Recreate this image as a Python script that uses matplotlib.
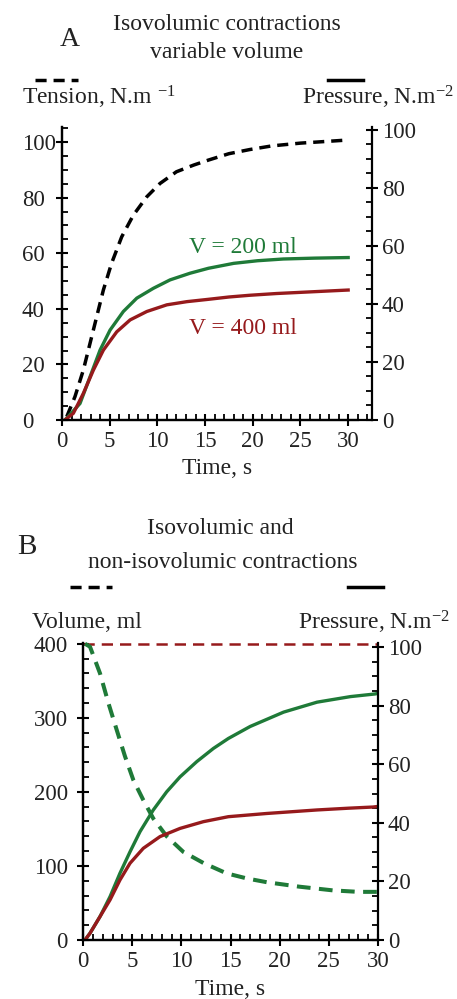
import matplotlib
matplotlib.use("Agg")
import matplotlib.pyplot as plt
from matplotlib.lines import Line2D
from matplotlib.ticker import MultipleLocator

plt.rcParams['font.family'] = ['Liberation Serif', 'DejaVu Serif']
plt.rcParams['mathtext.fontset'] = 'custom'
plt.rcParams['mathtext.rm'] = 'Liberation Serif'
plt.rcParams['mathtext.it'] = 'Liberation Serif:italic'

GREEN = '#1f7a38'
RED = '#961a1c'
TXT = '#222222'

# ---------- Panel A data ----------
a_tension_t = [0.5, 1.36, 2.24, 2.94, 3.64, 4.34, 5.2, 6.26, 7.48, 8.89, 10.28, 12.0,
               13.8, 15.35, 17.5, 19.7, 22.0, 25.0, 29.9]
a_tension_v = [1.2, 8.4, 18, 27.6, 37.2, 46.8, 56.4, 65.9, 73.7, 80.3, 85.1, 89.3,
               91.7, 93.5, 95.8, 97.3, 98.6, 99.6, 100.7]
a_p200_t = [0.3, 0.49, 1.89, 2.94, 3.99, 5.04, 6.43, 7.84, 9.58, 11.33, 13.43, 15.35,
            18.0, 20.5, 23.2, 26.5, 30.0]
a_p200_v = [0, 0.6, 5.7, 14.9, 24.1, 31, 37.4, 42, 45.4, 48.3, 50.6, 52.3,
            54, 54.9, 55.5, 55.8, 56]
a_p400_t = [0.3, 1.19, 2.24, 3.29, 4.34, 5.74, 7.14, 8.89, 10.99, 13.1, 15.35, 17.5,
            19.7, 22.5, 25.0, 27.5, 30.0]
a_p400_v = [0, 2.3, 9.2, 17.2, 24.1, 30.4, 34.5, 37.4, 39.7, 40.8, 41.6, 42.4,
            43.0, 43.6, 44.0, 44.4, 44.8]
a_labels = ["V = 200 ml", "V = 400 ml"]

# ---------- Panel B data ----------
b_viso_t = [0, 30]
b_viso_v = [400, 400]
b_vnon_t = [0.2, 0.71, 1.73, 2.58, 3.42, 4.27, 5.12, 6.13, 7.15, 8.51, 10.2, 12.24,
            14.6, 16.7, 18.7, 22.0, 25.4, 28.0, 30.0]
b_vnon_v = [400, 396, 360, 320, 284, 248, 216, 189, 164, 140, 119, 104,
            90, 83, 78, 72, 67, 65, 65]
b_pnon_t = [0.2, 0.71, 1.73, 2.75, 3.76, 4.78, 5.8, 7.15, 8.51, 9.87, 11.57, 13.26,
            14.78, 17.0, 20.4, 23.8, 27.2, 29.7, 30.0]
b_pnon_v = [0, 2.3, 8, 14.8, 22.8, 30.1, 37, 44.4, 50.6, 55.7, 60.9, 65.4,
            68.8, 72.9, 77.8, 81.2, 83.1, 84, 84.2]
b_piso_t = [0.2, 0.71, 1.73, 2.75, 3.76, 4.78, 6.13, 7.83, 9.87, 12.24, 14.78, 18.7,
            23.8, 27.0, 29.5, 30.0]
b_piso_v = [0, 2.3, 8, 13.7, 20.5, 26.2, 31.3, 35.3, 38.1, 40.4, 42.1, 43.2,
            44.4, 45.0, 45.4, 45.6]

W, H = 457, 999
fig = plt.figure(figsize=(W / 100, H / 100), dpi=100)

def fx(px):
    return px / W

def fy(py):
    return 1 - py / H

FS = 17
TFS = 16.5

def style_axes(ax, ax2, xmaj, xmin, ymaj, ymin, y2maj, y2min):
    for a in (ax, ax2):
        for s in a.spines.values():
            s.set_linewidth(1.6)
            s.set_color('black')
    ax.xaxis.set_major_locator(MultipleLocator(xmaj))
    ax.xaxis.set_minor_locator(MultipleLocator(xmin))
    ax.yaxis.set_major_locator(MultipleLocator(ymaj))
    ax.yaxis.set_minor_locator(MultipleLocator(ymin))
    ax2.yaxis.set_major_locator(MultipleLocator(y2maj))
    ax2.yaxis.set_minor_locator(MultipleLocator(y2min))
    ax.tick_params(axis='both', which='major', direction='inout', length=8, width=1.5,
                   labelsize=TFS, labelcolor=TXT)
    ax.tick_params(axis='both', which='minor', direction='in', length=4, width=1.3)
    ax2.tick_params(axis='y', which='major', direction='inout', length=8, width=1.5,
                    labelsize=TFS, labelcolor=TXT, pad=3)
    ax2.tick_params(axis='y', which='minor', direction='in', length=4, width=1.3)
    ax.tick_params(axis='x', which='major', pad=4)

# ---------- Panel A ----------
axA = fig.add_axes([fx(62), fy(420), fx(372) - fx(62), fy(127) - fy(420)])
axA2 = axA.twinx()
axA.set_xlim(0, 32.5)
axA.set_ylim(0, 105.4)
axA2.set_ylim(0, 101)
axA.spines['top'].set_visible(False)
axA2.spines['top'].set_visible(False)
axA.spines['right'].set_visible(False)
axA.spines['bottom'].set_bounds(0, 31)
style_axes(axA, axA2, 5, 1, 20, 5, 20, 5)
axA.set_xticks([0, 5, 10, 15, 20, 25, 30])
axA.tick_params(axis='y', which='major', pad=25)
for lbl in axA.get_yticklabels():
    lbl.set_ha('left')

axA.plot(a_tension_t, a_tension_v, color='black', lw=2.5, ls=(0, (3.2, 2.0)))
axA2.plot(a_p200_t, a_p200_v, color=GREEN, lw=2.4)
axA2.plot(a_p400_t, a_p400_v, color=RED, lw=2.4)
axA2.text(19, 59.3, a_labels[0], color=GREEN, fontsize=FS, ha='center', va='center')
axA2.text(19, 31.7, a_labels[1], color=RED, fontsize=FS, ha='center', va='center')
axA.set_xlabel("Time, s", fontsize=FS, color=TXT, labelpad=4)

fig.text(fx(70), fy(40), "A", fontsize=20, ha='center', va='center', color=TXT)
fig.text(fx(227), fy(25), "Isovolumic contractions", fontsize=FS, ha='center', va='center', color=TXT)
fig.text(fx(227), fy(53), "variable volume", fontsize=FS, ha='center', va='center', color=TXT)
fig.add_artist(Line2D([fx(35), fx(78)], [fy(80), fy(80)], color='black', lw=2.5,
                      ls=(0, (3.2, 2.0)), transform=fig.transFigure))
fig.add_artist(Line2D([fx(328), fx(363)], [fy(80), fy(80)], color='black', lw=2.5,
                      transform=fig.transFigure))
fig.text(fx(22), fy(97), r"Tension, N.m $^{-1}$", fontsize=FS, ha='left', va='center', color=TXT)
fig.text(fx(454), fy(97), r"Pressure, N.m$^{-2}$", fontsize=FS, ha='right', va='center', color=TXT)

# ---------- Panel B ----------
axB = fig.add_axes([fx(83), fy(940), fx(378) - fx(83), fy(643) - fy(940)])
axB2 = axB.twinx()
axB.set_xlim(0, 30)
axB.set_ylim(0, 401)
axB2.set_ylim(0, 101.4)
axB.spines['top'].set_visible(False)
axB2.spines['top'].set_visible(False)
axB.spines['right'].set_visible(False)
style_axes(axB, axB2, 5, 1, 100, 20, 20, 5)
axB.tick_params(axis='y', which='major', pad=7)

axB.plot(b_viso_t, b_viso_v, color=RED, lw=1.8, ls=(0, (4.5, 2.8)), clip_on=False)
axB.plot(b_vnon_t, b_vnon_v, color=GREEN, lw=2.9, ls=(0, (3.4, 2.1)), clip_on=False)
axB2.plot(b_pnon_t, b_pnon_v, color=GREEN, lw=2.4)
axB2.plot(b_piso_t, b_piso_v, color=RED, lw=2.4)
axB.set_xlabel("Time, s", fontsize=FS, color=TXT, labelpad=5)

fig.text(fx(27), fy(547), "B", fontsize=21, ha='center', va='center', color=TXT)
fig.text(fx(220), fy(528), "Isovolumic and", fontsize=FS, ha='center', va='center', color=TXT)
fig.text(fx(223), fy(563), "non-isovolumic contractions", fontsize=FS, ha='center', va='center', color=TXT)
fig.add_artist(Line2D([fx(70), fx(112)], [fy(587), fy(587)], color='black', lw=2.5,
                      ls=(0, (3.2, 2.0)), transform=fig.transFigure))
fig.add_artist(Line2D([fx(348), fx(383)], [fy(587), fy(587)], color='black', lw=2.5,
                      transform=fig.transFigure))
fig.text(fx(32), fy(623), "Volume, ml", fontsize=FS, ha='left', va='center', color=TXT)
fig.text(fx(450), fy(622), r"Pressure, N.m$^{-2}$", fontsize=FS, ha='right', va='center', color=TXT)

fig.savefig("out.png", dpi=100)
